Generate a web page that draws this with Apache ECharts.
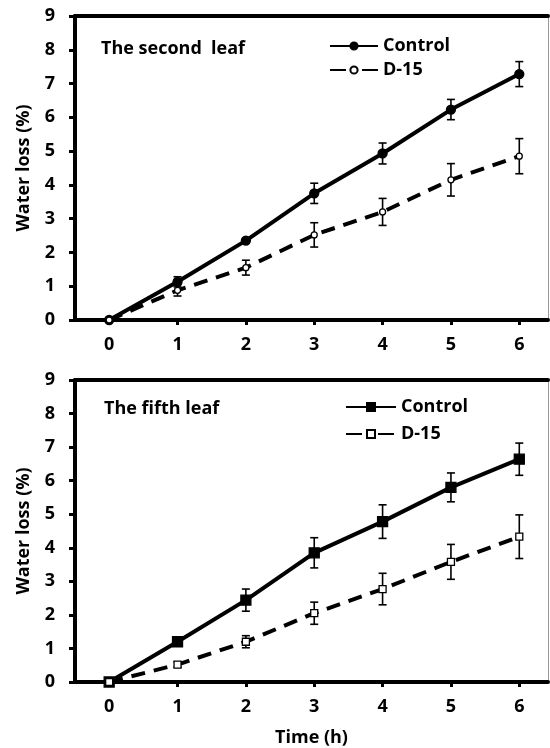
<!DOCTYPE html>
<html>
<head>
<meta charset="utf-8">
<script src="https://cdn.jsdelivr.net/npm/echarts@6/dist/echarts.min.js"></script>
<style>html,body{margin:0;padding:0;background:#fff;}#c{width:550px;height:748px;}</style>
</head>
<body>
<div id="c"></div>
<script>
const times = [0, 1, 2, 3, 4, 5, 6];
const ctrl2 = [0, 1.13, 2.35, 3.75, 4.93, 6.23, 7.28];
const ctrl2Err = [0, 0.15, 0.05, 0.3, 0.31, 0.3, 0.37];
const d15_2 = [0, 0.88, 1.55, 2.52, 3.2, 4.15, 4.85];
const d15_2Err = [0, 0.17, 0.22, 0.36, 0.4, 0.48, 0.52];
const ctrl5 = [0, 1.2, 2.44, 3.85, 4.78, 5.8, 6.64];
const ctrl5Err = [0, 0.05, 0.33, 0.45, 0.5, 0.43, 0.48];
const d15_5 = [0, 0.52, 1.2, 2.05, 2.77, 3.58, 4.33];
const d15_5Err = [0, 0.08, 0.18, 0.33, 0.47, 0.52, 0.65];

const FONT = 'Open Sans';
const FS = 18;
const pts = (ys) => times.map((t, i) => [t, ys[i]]);
const errs = (ys, es) => times.map((t, i) => [t, ys[i] - es[i], ys[i] + es[i]]);

function errSeries(xi, yi, ys, es) {
  return {
    type: 'custom', xAxisIndex: xi, yAxisIndex: yi, z: 2, silent: true,
    data: errs(ys, es),
    renderItem: function (params, api) {
      const x = api.value(0);
      const lo = api.coord([x, api.value(1)]);
      const hi = api.coord([x, api.value(2)]);
      const w = 4;
      const st = { stroke: '#000', lineWidth: 1.6 };
      return { type: 'group', children: [
        { type: 'line', shape: { x1: lo[0], y1: lo[1], x2: hi[0], y2: hi[1] }, style: st },
        { type: 'line', shape: { x1: lo[0] - w, y1: lo[1], x2: lo[0] + w, y2: lo[1] }, style: st },
        { type: 'line', shape: { x1: hi[0] - w, y1: hi[1], x2: hi[0] + w, y2: hi[1] }, style: st }
      ]};
    }
  };
}

const txt = { color: '#000', fontFamily: FONT, fontWeight: 'bold', fontSize: FS };

function xAxes(gi, showName) {
  return [{
    type: 'value', gridIndex: gi, min: -0.5, max: 6.42, position: 'bottom',
    axisLine: { show: true, onZero: false, lineStyle: { color: '#000', width: 4 } },
    axisTick: { show: true, customValues: times, length: 5, lineStyle: { color: '#000', width: 3 } },
    axisLabel: Object.assign({ customValues: times, margin: 16 }, txt),
    splitLine: { show: false },
    name: showName ? 'Time (h)' : '', nameLocation: 'middle', nameGap: 47,
    nameTextStyle: txt
  }, {
    type: 'value', gridIndex: gi, min: -0.5, max: 6.42, position: 'top',
    axisLine: { show: true, onZero: false, lineStyle: { color: '#000', width: 4 } },
    axisTick: { show: false }, axisLabel: { show: false }, splitLine: { show: false }
  }];
}
function yAxes(gi) {
  return [{
    type: 'value', gridIndex: gi, min: 0, max: 9, interval: 1, position: 'left',
    axisLine: { show: true, onZero: false, lineStyle: { color: '#000', width: 4 } },
    axisTick: { show: true, length: 6, lineStyle: { color: '#000', width: 3 } },
    axisLabel: Object.assign({ margin: 20 }, txt),
    splitLine: { show: false },
    name: 'Water loss (%)', nameLocation: 'middle', nameGap: 42,
    nameTextStyle: txt
  }, {
    type: 'value', gridIndex: gi, min: 0, max: 9, position: 'right',
    axisLine: { show: true, onZero: false, lineStyle: { color: '#999', width: 1 } },
    axisTick: { show: false }, axisLabel: { show: false }, splitLine: { show: false }
  }];
}

function lineSeries(name, xi, yi, ys, symbol, size, filled, dashed) {
  return {
    name: name, type: 'line', xAxisIndex: xi, yAxisIndex: yi, z: 5,
    data: pts(ys), symbol: symbol, symbolSize: size, showAllSymbol: true,
    lineStyle: { color: '#000', width: 4, type: dashed ? [14, 9] : 'solid' },
    itemStyle: { color: filled ? '#000' : '#fff', borderColor: '#000', borderWidth: 1.3 },
    emphasis: { disabled: true }
  };
}

const chart = echarts.init(document.getElementById('c'), null, { renderer: 'canvas' });
chart.setOption({
  animation: false,
  backgroundColor: '#fff',
  title: [
    { text: 'The second  leaf', left: 96, top: 35, textStyle: txt },
    { text: 'The fifth leaf', left: 99, top: 395, textStyle: txt }
  ],
  legend: [
    { data: ['Control', { name: 'D-15', lineStyle: { type: [16, 16] } }], orient: 'vertical', left: 324, top: 32,
      itemWidth: 48, itemHeight: 9, itemGap: 6, textStyle: txt, selectedMode: false },
    { data: ['Control ', { name: 'D-15 ', lineStyle: { type: [16, 16] } }], orient: 'vertical', left: 340, top: 393,
      itemWidth: 50, itemHeight: 10, itemGap: 9, textStyle: txt, selectedMode: false }
  ],
  grid: [
    { left: 75, top: 16, width: 473, height: 304 },
    { left: 75, top: 380, width: 473, height: 302 }
  ],
  xAxis: [...xAxes(0, false), ...xAxes(1, true)],
  yAxis: [...yAxes(0), ...yAxes(1)],
  series: [
    errSeries(0, 0, ctrl2, ctrl2Err),
    errSeries(0, 0, d15_2, d15_2Err),
    lineSeries('Control', 0, 0, ctrl2, 'circle', 9, true, false),
    lineSeries('D-15', 0, 0, d15_2, 'circle', 6, false, true),
    errSeries(2, 2, ctrl5, ctrl5Err),
    errSeries(2, 2, d15_5, d15_5Err),
    lineSeries('Control ', 2, 2, ctrl5, 'rect', 10, true, false),
    lineSeries('D-15 ', 2, 2, d15_5, 'rect', 7, false, true)
  ]
});
</script>
</body>
</html>
